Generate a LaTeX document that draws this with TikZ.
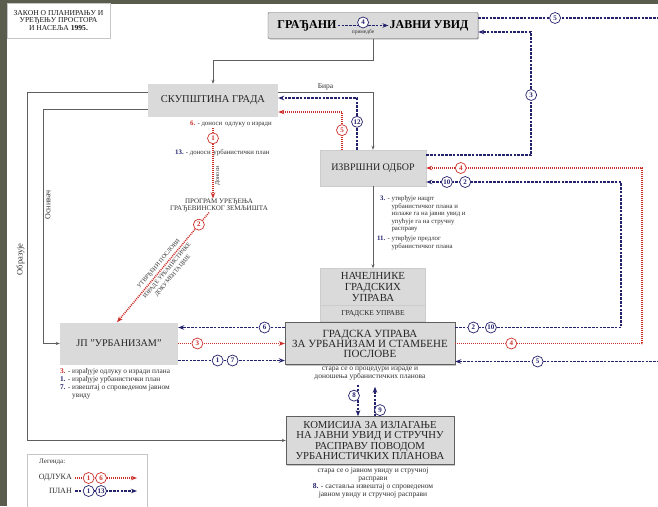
\documentclass[tikz,border=0pt]{standalone}
\usepackage{fontspec}
\setmainfont{Liberation Serif}
\usetikzlibrary{arrows.meta,positioning,shadows}

\definecolor{slide}{RGB}{90,92,78}
\definecolor{planblue}{RGB}{36,34,108}
\definecolor{odlred}{RGB}{204,48,42}
\definecolor{boxgray}{RGB}{218,218,218}
\definecolor{wire}{RGB}{95,95,95}
\definecolor{notegray}{RGB}{50,50,50}

\tikzset{
  box/.style={rectangle, draw=gray!40, fill=boxgray, text=black!85, align=center, inner sep=1pt,
    font=\fontsize{10.5}{10.5}\selectfont},
  bigbox/.style={box, draw=gray!75!black, drop shadow={shadow xshift=1pt, shadow yshift=-1pt, opacity=.45}},
  note/.style={inner sep=0pt, text=notegray, font=\fontsize{6.8}{7.6}\selectfont},
  wireline/.style={draw=wire, line width=.6pt},
  wirearrow/.style={wireline, -{Stealth[length=4pt,width=3pt]}},
  plan/.style={draw=planblue, line width=1.5pt, dash pattern=on 2.6pt off 1.2pt, -{Stealth[length=6pt,width=4.5pt]}},
  odl/.style={draw=odlred, line width=1.5pt, dash pattern=on 1pt off 1pt, -{Stealth[length=6pt,width=4.5pt]}},
  circ/.style={circle, solid, fill=white, line width=.7pt, inner sep=0pt, minimum size=11pt,
    font=\fontsize{7}{7}\selectfont\bfseries},
  pcirc/.style={circ, draw=planblue, text=planblue},
  ocirc/.style={circ, draw=odlred, text=odlred},
}
\newcommand{\pnum}[1]{\textbf{\textcolor{planblue}{#1}}}
\newcommand{\onum}[1]{\textbf{\textcolor{odlred}{#1}}}

\begin{document}
\begin{tikzpicture}[x=1pt, y=-1pt]
  \useasboundingbox (0,0) rectangle (658,506);
  \fill[slide] (0,0) rectangle (658,506);
  \fill[white] (7,4) rectangle (658,506);

  % naslov
  \node[draw=gray!45, fill=white, inner sep=0pt, minimum width=103pt, minimum height=35pt, align=center,
    text=black!90, font=\fontsize{7.6}{7.6}\selectfont] (zakon) at (58.5,20.5)
    {ЗАКОН О ПЛАНИРАЊУ И\\УРЕЂЕЊУ ПРОСТОРА\\И НАСЕЉА \textbf{1995.}};

  % cvorovi
  \node[bigbox, rounded corners=1pt, minimum width=210pt, minimum height=26pt] (javno) at (373,25.5) {};
  \node[inner sep=1pt, font=\fontsize{12}{12}\selectfont\bfseries, left of=javno, node distance=66pt] (gradjani) {ГРАЂАНИ};
  \node[inner sep=1pt, font=\fontsize{12}{12}\selectfont\bfseries, right of=javno, node distance=56pt] (uvid) {ЈАВНИ УВИД};
  \node[box, draw=none, minimum width=130pt, minimum height=33pt] (skup) at (213,100.5) {СКУПШТИНА ГРАДА};
  \node[box, minimum width=106pt, minimum height=36pt, font=\fontsize{10}{10}\selectfont, below of=javno, node distance=142.5pt] (izvr) {ИЗВРШНИ ОДБОР};
  \node[box, minimum width=105pt, minimum height=37pt, font=\fontsize{10.8}{11}\selectfont, below of=izvr, node distance=119pt] (nac) {НАЧЕЛНИКЕ\\ГРАДСКИХ\\УПРАВА};
  \node[box, minimum width=105pt, minimum height=16pt, font=\fontsize{7.5}{7.5}\selectfont, below of=nac, node distance=26.5pt] (gu) {ГРАДСКЕ УПРАВЕ};
  \node[bigbox, minimum width=170pt, minimum height=42pt, font=\fontsize{11}{10}\selectfont, below of=gu, node distance=30pt, xshift=-3pt] (grad) {ГРАДСКА УПРАВА\\ЗА УРБАНИЗАМ И СТАМБЕНЕ\\ПОСЛОВЕ};
  \node[box, draw=none, minimum width=118pt, minimum height=42pt, font=\fontsize{10.2}{10.2}\selectfont, left of=grad, node distance=251pt] (jp) {ЈП "УРБАНИЗАМ"};
  \node[bigbox, minimum width=168pt, minimum height=48pt, font=\fontsize{10.7}{10.5}\selectfont, below of=grad, node distance=97pt] (kom) {КОМИСИЈА ЗА ИЗЛАГАЊЕ\\НА ЈАВНИ УВИД И СТРУЧНУ\\РАСПРАВУ ПОВОДОМ\\УРБАНИСТИЧКИХ ПЛАНОВА};
  \node[note, align=center, font=\fontsize{7}{7.6}\selectfont, below of=skup, node distance=105pt, xshift=6pt] (prog) {ПРОГРАМ УРЕЂЕЊА\\ГРАЂЕВИНСКОГ ЗЕМЉИШТА};

  % napomene
  \node[note, anchor=west] (s6) at (190,124) {\onum{6.} - доноси\, одлуку о изради};
  \node[note, anchor=west] (s13) at (175,153) {\pnum{13.} - доноси\, урбанистички план};
  \node[note, anchor=north west] (izvnote) at (377,195) {\begin{tabular}{@{}r@{ }l@{}}
    \pnum{3.} - & утврђује нацрт\\ & урбанистичког плана и\\ & излаже га на јавни увид и\\
    & упућује га на стручну\\ & расправу\\[2pt] \pnum{11.} - & утврђује предлог\\ & урбанистичког плана
    \end{tabular}};
  \node[note, anchor=north west, font=\fontsize{7.3}{8}\selectfont] (jpnote) at ([yshift=-3pt]jp.south west) {\begin{tabular}{@{}r@{ }l@{}}
    \onum{3.} - & израђује одлуку о изради плана\\ \pnum{1.} - & израђује урбанистички план\\
    \pnum{7.} - & извештај о спроведеном јавном\\ & увиду
    \end{tabular}};
  \node[note, align=center, font=\fontsize{7.5}{8}\selectfont, below=2pt of grad] (gradnote) {стара се о процедури израде и\\доношења урбанистичких планова};
  \node[note, align=center, font=\fontsize{7.5}{7.8}\selectfont, below=3pt of kom, xshift=3pt] (komnote) {стара се о јавном увиду и стручној\\расправи\\\pnum{8.} - саставља извештај о спроведеном\\јавном увиду и стручној расправи};

  % sive veze
  \draw[wirearrow] (javno.south) -- ++(0,22) -| (skup.north);
  \draw[wirearrow] ([yshift=8.5pt]skup.east) -| node[pos=.25, above, inner sep=1.5pt, text=notegray, font=\fontsize{7.5}{7.5}\selectfont] {Бира} (izvr.north);
  \draw[wirearrow] ([yshift=8.5pt]skup.west) -- ++(-121,0) |- node[pos=.24, rotate=90, anchor=south, inner sep=2pt, text=notegray, font=\fontsize{8.5}{8.5}\selectfont] {Образује} (kom.west);
  \draw[wirearrow] ([yshift=-8.5pt]skup.west) -- ++(-105,0) |- node[pos=.205, rotate=90, anchor=north, inner sep=2pt, text=notegray, font=\fontsize{8}{8}\selectfont] {Оснивач} (jp.west);
  \draw[wirearrow] (izvr) -- (nac);

  % plan i odluka
  \draw[plan] (gradjani) -- node[pcirc, yshift=3pt]{4} node[below=3.5pt, note, font=\fontsize{5.5}{5.5}\selectfont]{примедбе} (uvid);
  \draw[plan] ([xshift=-16pt]izvr.north) |- node[pcirc, pos=.27]{12} ([yshift=2.5pt]skup.east);
  \draw[odl] ([xshift=-31pt]izvr.north) |- node[ocirc, pos=.26]{5} ([yshift=-11.5pt]skup.east);
  \draw[odl, shorten <=11pt] (skup.south) -- node[ocirc, pos=.26]{1}
    node[pos=.72, rotate=90, anchor=north, inner sep=1.5pt, text=notegray, font=\fontsize{6}{6}\selectfont]{Доноси} (skup.south |- prog.north);
  \draw[odl] ([xshift=-10pt]prog.south) -- node[ocirc, pos=.11]{2}
    node[sloped, above, inner sep=2pt, text=notegray, font=\fontsize{6}{7.5}\selectfont]{УТВРЂЕНИ ПОСЛОВИ}
    node[sloped, below, inner sep=2pt, align=center, text=notegray, font=\fontsize{6}{7.5}\selectfont]{ИЗРАДЕ УРБАНИСТИЧКЕ\\ДОКУМЕНТАЦИЈЕ} ([xshift=-2pt]jp.north);
  \draw[plan] ([yshift=16pt]grad.west) -- node[pcirc, pos=.19]{6} ([yshift=16pt]grad.west -| jp.east);
  \draw[odl] (jp.east) -- node[ocirc, pos=.18]{3} (jp.east -| grad.west);
  \draw[plan] ([yshift=-17pt]jp.east) -- node[pcirc, pos=.37]{1} node[pcirc, pos=.51]{7} ([yshift=-17pt]jp.east -| grad.west);
  \draw[plan] ([yshift=16pt]grad.east) -- node[pcirc, pos=.11]{2} node[pcirc, pos=.215]{10} ++(166,0)
    |- node[pcirc, pos=.9]{2} node[pcirc, pos=.947]{10} ([yshift=-14pt]izvr.east);
  \draw[odl] (grad.east) -- node[ocirc, pos=.3]{4} ++(187,0) |- node[ocirc, pos=.92]{4} (izvr.east);
  \draw[plan] ([yshift=7.5pt]javno.east) -- node[pcirc, pos=.42]{5} ++(183,0) |- node[pcirc, pos=.8]{5} ([yshift=-18pt]grad.east);
  \draw[plan] ([yshift=13pt]izvr.east) -- ++(105,0) |- node[pcirc, pos=.244]{3} ([yshift=-6.5pt]javno.east);
  \draw[plan, shorten <=20pt] ([xshift=-12pt]grad.south) -- node[pcirc, pos=.6, xshift=-4pt]{8} ([xshift=-12pt]grad.south |- kom.north);
  \draw[plan, shorten >=22pt] ([xshift=5pt]kom.north) -- node[pcirc, pos=.12, xshift=5pt]{9} ([xshift=5pt]kom.north |- grad.south);

  % legenda
  \node[draw=gray!45, fill=white, minimum width=120pt, minimum height=54pt] (leg) at (87,481) {};
  \node[note, anchor=west, font=\fontsize{7}{7}\selectfont] (legtitle) at (39,462) {Легенда:};
  \node[note, anchor=east, font=\fontsize{8}{8}\selectfont] (odluka) at (72,478) {ОДЛУКА};
  \node[note, anchor=east, font=\fontsize{8}{8}\selectfont] (planleg) at (72,491) {ПЛАН};
  \coordinate (odlend) at (137,478);
  \coordinate (planend) at (137,491);
  \draw[odl] ([xshift=3pt]odluka.east) -- node[ocirc, pos=.22]{1} node[ocirc, pos=.42]{6} (odlend);
  \draw[plan] ([xshift=3pt]planleg.east) -- node[pcirc, pos=.22]{1} node[pcirc, pos=.42]{13} (planend);
\end{tikzpicture}
\end{document}
